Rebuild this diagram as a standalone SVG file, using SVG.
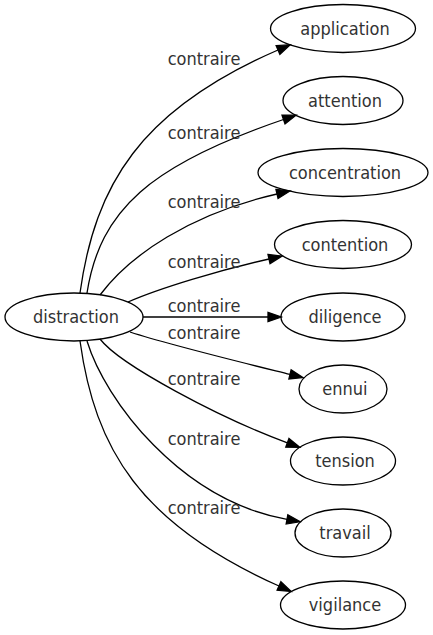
<svg xmlns="http://www.w3.org/2000/svg" width="433" height="635" viewBox="0 0 433 635">
<defs>
<style>
.node ellipse{fill:none;stroke:#000;stroke-width:1.3}
.node text{font-family:"DejaVu Sans Condensed","DejaVu Sans",sans-serif;font-stretch:condensed;font-size:18px;fill:#333;text-anchor:middle}
.edges path{fill:none;stroke:#000;stroke-width:1.3;marker-end:url(#arr)}
.edges text{font-family:"DejaVu Sans Condensed","DejaVu Sans",sans-serif;font-stretch:condensed;font-size:18px;fill:#333;text-anchor:middle}
</style>
<marker id="arr" markerUnits="userSpaceOnUse" markerWidth="16" markerHeight="12" refX="0" refY="4.7" orient="auto" overflow="visible">
<polygon points="0,0 13.3,4.7 0,9.4" fill="#000" stroke="#000" stroke-width="1.3"/>
</marker>
</defs>
<rect width="433" height="635" fill="#fff"/>
<g class="edges" id="edges">
<path d="M80,293 C95,185 140,110 278,50"/>
<text x="204" y="65">contraire</text>
<path d="M87,293 C100,210 150,165 283.5,119.5"/>
<text x="204" y="139">contraire</text>
<path d="M100,295 C130,255 190,214 277,194"/>
<text x="204" y="208">contraire</text>
<path d="M128,302 C160,288 220,270 269,259"/>
<text x="204" y="268">contraire</text>
<path d="M143,317 L268,317"/>
<text x="204" y="312">contraire</text>
<path d="M130,332 C170,345 240,362 290,374.4"/>
<text x="204" y="339">contraire</text>
<path d="M100,339 C120,365 220,418 287.4,442.8"/>
<text x="204" y="385">contraire</text>
<path d="M87,341 C105,400 180,500 287,519.4"/>
<text x="204" y="445">contraire</text>
<path d="M80,341 C95,449 140,524 279,586"/>
<text x="204" y="514">contraire</text>
</g>
<g class="node" id="n-distraction"><ellipse cx="74" cy="317" rx="69" ry="24"/><text x="76" y="323">distraction</text></g>
<g class="node" id="n-application"><ellipse cx="343" cy="28.5" rx="72.5" ry="24"/><text x="345" y="34.5">application</text></g>
<g class="node" id="n-attention"><ellipse cx="343" cy="100.5" rx="60" ry="24"/><text x="345" y="106.5">attention</text></g>
<g class="node" id="n-concentration"><ellipse cx="343" cy="172.5" rx="85" ry="24"/><text x="345" y="178.5">concentration</text></g>
<g class="node" id="n-contention"><ellipse cx="343" cy="244.5" rx="68.5" ry="24"/><text x="345" y="250.5">contention</text></g>
<g class="node" id="n-diligence"><ellipse cx="343" cy="317" rx="62" ry="24"/><text x="345" y="323">diligence</text></g>
<g class="node" id="n-ennui"><ellipse cx="343" cy="389" rx="44" ry="24"/><text x="345" y="395">ennui</text></g>
<g class="node" id="n-tension"><ellipse cx="343" cy="461" rx="52.5" ry="24"/><text x="345" y="467">tension</text></g>
<g class="node" id="n-travail"><ellipse cx="343" cy="533" rx="48" ry="24"/><text x="345" y="539">travail</text></g>
<g class="node" id="n-vigilance"><ellipse cx="343" cy="605" rx="62.5" ry="24"/><text x="345" y="611">vigilance</text></g>
</svg>
